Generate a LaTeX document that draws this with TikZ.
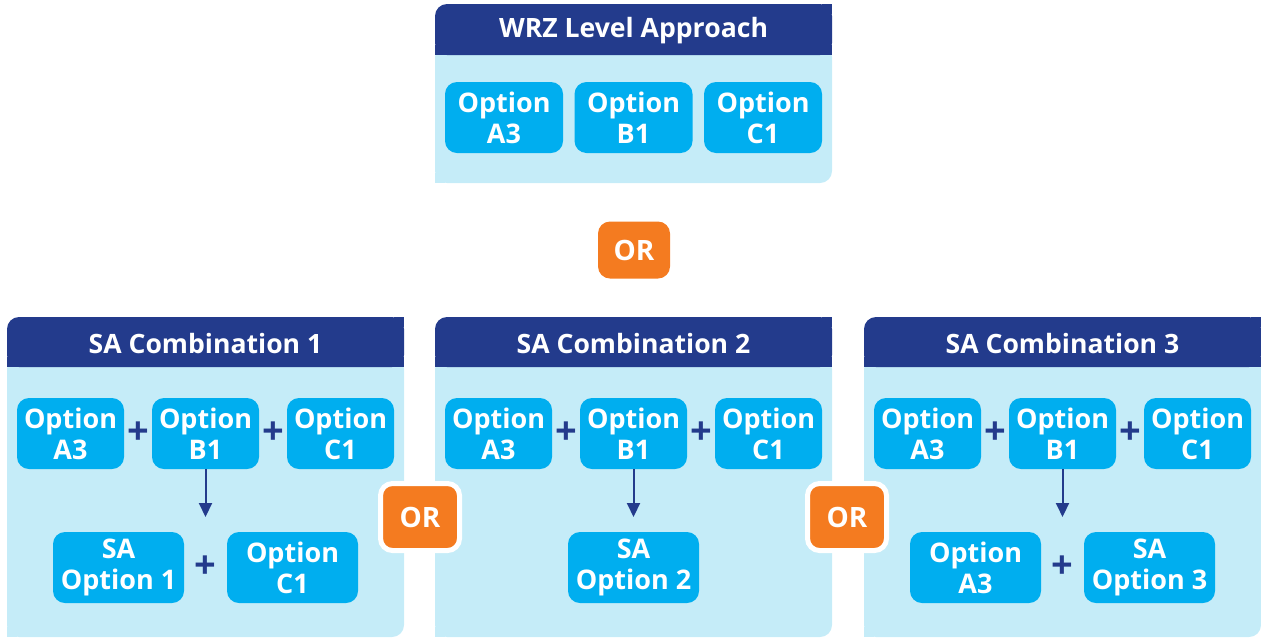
\documentclass[tikz,border=0pt]{standalone}
\usepackage{fontspec}
\setmainfont{Open Sans}
\usetikzlibrary{arrows.meta,calc}

\definecolor{hdr}{HTML}{233B8C}
\definecolor{bodyc}{HTML}{C5ECF8}
\definecolor{optc}{HTML}{00AEEF}
\definecolor{orc}{HTML}{F47B20}

\tikzset{
  opt/.style={fill=optc, rounded corners=6pt, text=white, align=center,
    font=\fontsize{13.5}{15.5}\selectfont\bfseries,
    minimum height=35.5pt, inner sep=0pt},
  optn/.style={opt, minimum width=53.5pt},
  optw/.style={opt, minimum width=65.5pt},
  optt/.style={opt, minimum width=59pt},
  plus/.style={text=hdr, font=\fontsize{19}{19}\selectfont\bfseries, inner sep=0pt},
  title/.style={text=white, font=\fontsize{13.3}{15}\selectfont\bfseries, inner sep=0pt},
  orbox/.style={fill=orc, rounded corners=6pt, text=white, inner sep=0pt,
    font=\fontsize{14}{15}\selectfont\bfseries},
  arr/.style={draw=hdr, line width=1pt, -{Triangle[length=7pt,width=6.5pt]}}
}

% panel: left x, top y, header bottom y, bottom y, title, name
\newcommand\mypanel[6]{%
  \fill[bodyc, rounded corners=6pt] (#1,#3-10) rectangle (#1+397,#4);
  \fill[bodyc] (#1,#4-10) rectangle (#1+10,#4);
  \fill[hdr, rounded corners=6pt] (#1,#2) rectangle (#1+397,#3);
  \fill[hdr] (#1+387,#2) rectangle (#1+397,#2+10);
  \fill[hdr] (#1,#3-10) rectangle (#1+397,#3);
  \node[title] (#6) at (#1+198.5,{(#2+#3)/2+1.5}) {#5};
}

\begin{document}
\begin{tikzpicture}[x=0.5pt,y=-0.5pt]
\useasboundingbox (0,0) rectangle (1261,638);

% top approach panel
\mypanel{435}{4}{55}{183}{WRZ Level Approach}{wrz}
\node[optt] (ta) at (504,117.5) {Option\\A3};
\node[optt] (tb) at (633.5,117.5) {Option\\B1};
\node[optt] (tc) at (763,117.5) {Option\\C1};

\node[orbox, minimum width=36pt, minimum height=28.5pt] (or0) at (634,250) {OR};

% combination panels
\mypanel{7}{317}{367}{637}{SA Combination 1}{sa1h}
\mypanel{435}{317}{367}{637}{SA Combination 2}{sa2h}
\mypanel{864}{317}{367}{637}{SA Combination 3}{sa3h}

% combination 1
\node[optn] (a1) at (70.5,433.5) {Option\\A3};
\node[optn] (b1) at (205.5,433.5) {Option\\B1};
\node[optn] (c1) at (340.5,433.5) {Option\\C1};
\node[plus] (p1a) at (138,433.5) {+};
\node[plus] (p1b) at (273,433.5) {+};
\coordinate (e1) at (205.5,517);
\draw[arr] (b1.south) -- (e1);
\node[optw] (s1) at (118.5,567.5) {SA\\Option 1};
\node[plus] (p1c) at (205.5,567.5) {+};
\node[optw] (d1) at (292.5,567.5) {Option\\C1};

% combination 2
\node[optn] (a2) at (498.5,433.5) {Option\\A3};
\node[optn] (b2) at (633.5,433.5) {Option\\B1};
\node[optn] (c2) at (768.5,433.5) {Option\\C1};
\node[plus] (p2a) at (566,433.5) {+};
\node[plus] (p2b) at (701,433.5) {+};
\coordinate (e2) at (633.5,517);
\draw[arr] (b2.south) -- (e2);
\node[optw] (s2) at (633.5,567.5) {SA\\Option 2};

% combination 3
\node[optn] (a3) at (927.5,433.5) {Option\\A3};
\node[optn] (b3) at (1062.5,433.5) {Option\\B1};
\node[optn] (c3) at (1197.5,433.5) {Option\\C1};
\node[plus] (p3a) at (995,433.5) {+};
\node[plus] (p3b) at (1130,433.5) {+};
\coordinate (e3) at (1062.5,517);
\draw[arr] (b3.south) -- (e3);
\node[optw] (d3) at (975.5,567.5) {Option\\A3};
\node[plus] (p3c) at (1062.5,567.5) {+};
\node[optw] (s3) at (1149.5,567.5) {SA\\Option 3};

% OR badges between panels
\node[orbox, draw=white, line width=2.5pt, minimum width=39.5pt, minimum height=33.5pt] (or1) at (420,517) {OR};
\node[orbox, draw=white, line width=2.5pt, minimum width=39.5pt, minimum height=33.5pt] (or2) at (847,517) {OR};
\end{tikzpicture}
\end{document}
